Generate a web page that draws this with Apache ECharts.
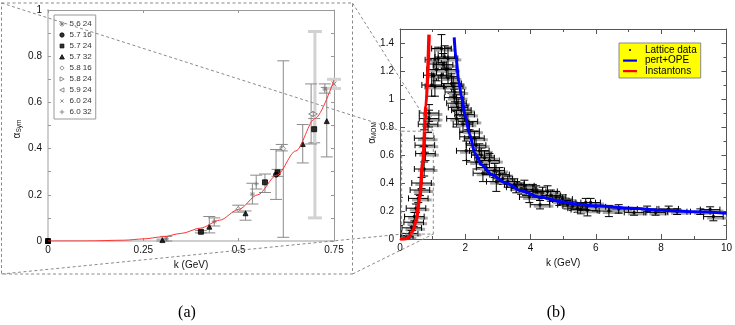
<!DOCTYPE html>
<html>
<head>
<meta charset="utf-8">
<script src="https://cdn.jsdelivr.net/npm/echarts@6/dist/echarts.min.js"></script>
<style>
html, body { margin: 0; padding: 0; background: #fff; }
#chart { width: 735px; height: 325px; }
</style>
</head>
<body>
<div id="chart"></div>
<script>
// ---- panel (a): [k, alpha, low, high] for each run (beta, L)
const a56_24 = [[0.31, 0.01, 0.0, 0.02], [0.436, 0.084, 0.065, 0.1], [0.536, 0.203, 0.16, 0.25], [0.613, 0.403, 0.39, 0.418], [0.726, 0.658, 0.64, 0.68]];
const a57_16 = [[0, 0, 0, 0], [0.598, 0.287, 0.18, 0.396]];
const a57_24 = [[0, 0, 0, 0], [0.401, 0.04, 0.035, 0.045], [0.569, 0.254, 0.21, 0.29], [0.602, 0.297, 0.28, 0.31], [0.698, 0.484, 0.425, 0.53]];
const a57_32 = [[0, 0, 0, 0], [0.3, 0.004, 0.0, 0.008], [0.423, 0.062, 0.035, 0.106], [0.518, 0.12, 0.09, 0.13], [0.668, 0.42, 0.338, 0.504], [0.731, 0.519, 0.364, 0.665]];
const a58_16 = [[0.499, 0.138, 0.125, 0.155], [0.617, 0.40, 0.016, 0.78]];
const a58_24 = [[0.70, 0.55, 0.1, 0.907]];
const a59_24 = [[0.69, 0.55, 0.42, 0.68]];
const a60_24 = [[0.75, 0.68, 0.66, 0.70]];
const a60_32 = [[0.546, 0.247, 0.225, 0.285]];
// red curve of panel (a)
const fitK = [0, 0.1, 0.2, 0.25, 0.3, 0.35, 0.4, 0.45, 0.5, 0.55, 0.6, 0.65, 0.7, 0.75];
const fitA = [0, 0.0002, 0.0035, 0.009, 0.018, 0.033, 0.056, 0.09, 0.137, 0.2, 0.285, 0.39, 0.53, 0.697];

// ---- panel (b): lattice data [k, alpha, dk, dalpha]
const lattice = [
  [0.2, 0.015, 0.2, 0.01], [0.3, 0.04, 0.25, 0.02], [0.36, 0.08, 0.3, 0.02], [0.42, 0.12, 0.3, 0.03],
  [0.44, 0.16, 0.3, 0.03], [0.49, 0.22, 0.3, 0.03], [0.56, 0.29, 0.3, 0.03], [0.61, 0.35, 0.3, 0.04],
  [0.66, 0.40, 0.3, 0.04], [0.74, 0.50, 0.3, 0.05], [0.78, 0.61, 0.3, 0.05], [0.76, 0.67, 0.3, 0.05],
  [0.74, 0.72, 0.3, 0.06], [0.86, 0.82, 0.3, 0.06], [0.89, 0.86, 0.3, 0.06], [0.89, 0.90, 0.3, 0.06],
  [0.97, 1.10, 0.3, 0.08], [1.02, 1.17, 0.3, 0.08], [1.07, 1.09, 0.3, 0.07], [1.07, 1.28, 0.3, 0.08],
  [1.12, 1.21, 0.3, 0.08], [1.17, 1.29, 0.3, 0.08], [1.27, 1.36, 0.3, 0.1], [1.27, 1.17, 0.3, 0.08],
  [1.32, 1.245, 0.3, 0.08], [1.37, 1.30, 0.3, 0.08], [1.42, 1.21, 0.3, 0.07], [1.47, 1.29, 0.3, 0.08],
  [1.47, 1.15, 0.3, 0.07], [1.58, 1.11, 0.3, 0.07], [1.63, 1.09, 0.3, 0.07], [1.68, 1.05, 0.3, 0.07],
  [1.66, 1.01, 0.3, 0.06], [1.73, 0.97, 0.3, 0.06], [1.78, 0.94, 0.3, 0.06], [1.88, 0.92, 0.3, 0.06],
  [1.73, 0.86, 0.3, 0.06], [1.98, 0.89, 0.3, 0.06], [2.08, 0.84, 0.3, 0.06], [1.93, 0.82, 0.3, 0.06],
  [2.13, 0.77, 0.3, 0.06], [2.03, 0.63, 0.3, 0.07], [2.13, 0.73, 0.3, 0.05], [2.28, 0.72, 0.3, 0.05],
  [2.33, 0.67, 0.3, 0.05], [2.43, 0.63, 0.3, 0.05], [2.34, 0.55, 0.3, 0.05], [2.49, 0.60, 0.3, 0.05],
  [2.59, 0.58, 0.3, 0.05], [2.54, 0.47, 0.3, 0.06], [2.64, 0.51, 0.3, 0.05], [2.74, 0.56, 0.3, 0.05],
  [2.9, 0.49, 0.3, 0.05], [2.95, 0.41, 0.3, 0.07], [3.05, 0.46, 0.3, 0.05], [3.15, 0.43, 0.3, 0.04],
  [3.3, 0.41, 0.3, 0.04], [3.5, 0.39, 0.3, 0.04], [3.56, 0.37, 0.3, 0.04], [3.71, 0.36, 0.3, 0.04],
  [3.81, 0.38, 0.3, 0.04], [3.86, 0.35, 0.3, 0.04], [3.96, 0.30, 0.3, 0.04], [4.07, 0.35, 0.3, 0.04],
  [4.17, 0.34, 0.3, 0.04], [4.29, 0.245, 0.3, 0.03], [4.37, 0.33, 0.3, 0.04], [4.52, 0.34, 0.3, 0.04],
  [4.62, 0.31, 0.3, 0.04], [4.78, 0.30, 0.3, 0.04], [4.88, 0.27, 0.3, 0.03], [4.98, 0.285, 0.3, 0.03],
  [5.13, 0.245, 0.3, 0.03], [5.29, 0.235, 0.3, 0.03], [5.44, 0.22, 0.3, 0.03], [5.54, 0.21, 0.3, 0.03],
  [5.69, 0.26, 0.3, 0.03], [5.84, 0.26, 0.3, 0.03], [5.74, 0.205, 0.3, 0.04], [6.0, 0.23, 0.3, 0.03],
  [6.4, 0.20, 0.3, 0.04], [6.7, 0.215, 0.3, 0.03], [7.17, 0.19, 0.3, 0.02], [7.57, 0.215, 0.3, 0.02],
  [7.83, 0.19, 0.3, 0.02], [8.23, 0.215, 0.3, 0.02], [8.49, 0.195, 0.3, 0.02], [9.2, 0.195, 0.3, 0.02],
  [9.5, 0.21, 0.3, 0.02], [9.6, 0.16, 0.3, 0.03]
];
// pert+OPE (blue) and instanton (red) curves
const opeK = [1.66, 1.72, 1.8, 1.88, 2.0, 2.13, 2.3, 2.5, 2.8, 3.25, 3.7, 4.27, 5.0, 5.4, 6.0, 7.1, 8.0, 9.0, 10.0];
const opeA = [1.44, 1.28, 1.13, 1.02, 0.88, 0.75, 0.61, 0.53, 0.46, 0.40, 0.345, 0.30, 0.265, 0.25, 0.237, 0.22, 0.205, 0.194, 0.184];
const instK = [0, 0.1, 0.2, 0.3, 0.4, 0.5, 0.6, 0.7, 0.8, 0.89];
const instA = [0, 0.0003, 0.004, 0.02, 0.06, 0.14, 0.29, 0.55, 0.95, 1.46];

const STAR = 'path://M5,0L5,10M0,5L10,5M1.5,1.5L8.5,8.5M8.5,1.5L1.5,8.5';
const TRI_R = 'path://M0,0L10,5L0,10Z';
const TRI_L = 'path://M10,0L0,5L10,10Z';
const CROSS = 'path://M0,0L10,10M10,0L0,10';
const PLUS = 'path://M5,0L5,10M0,5L10,5';

// legend icons: the leading moves fix a 10x10 box so the glyph keeps its small size
const BOX = 'path://M0,0M10,10';
const runs = [
  {name: '5.6 24', data: a56_24, symbol: STAR, fill: 'transparent', stroke: '#777',
    icon: BOX + 'M5,2L5,8M2,5L8,5M2.9,2.9L7.1,7.1M7.1,2.9L2.9,7.1'},
  {name: '5.7 16', data: a57_16, symbol: 'circle', fill: '#000', stroke: '#000',
    icon: BOX + 'M5,2.6A2.4,2.4,0,1,1,5,7.4A2.4,2.4,0,1,1,5,2.6Z'},
  {name: '5.7 24', data: a57_24, symbol: 'rect', fill: '#000', stroke: '#000',
    icon: BOX + 'M2.9,2.9L7.1,2.9L7.1,7.1L2.9,7.1Z'},
  {name: '5.7 32', data: a57_32, symbol: 'triangle', fill: '#000', stroke: '#000',
    icon: BOX + 'M5,2.4L7.6,7.2L2.4,7.2Z'},
  {name: '5.8 16', data: a58_16, symbol: 'diamond', fill: '#fff', stroke: '#777',
    icon: BOX + 'M5,2.6L7.4,5L5,7.4L2.6,5Z'},
  {name: '5.8 24', data: a58_24, symbol: TRI_R, fill: '#fff', stroke: '#777', thick: 1,
    icon: BOX + 'M2.8,2.6L7.4,5L2.8,7.4Z'},
  {name: '5.9 24', data: a59_24, symbol: TRI_L, fill: '#fff', stroke: '#777',
    icon: BOX + 'M7.2,2.6L2.6,5L7.2,7.4Z'},
  {name: '6.0 24', data: a60_24, symbol: CROSS, fill: 'transparent', stroke: '#777', thick: 1,
    icon: BOX + 'M3.2,3.2L6.8,6.8M6.8,3.2L3.2,6.8'},
  {name: '6.0 32', data: a60_32, symbol: PLUS, fill: 'transparent', stroke: '#777',
    icon: BOX + 'M5,2.5L5,7.5M2.5,5L7.5,5'}
];

const errA = [];
runs.forEach(r => r.data.forEach(p => { if (p[3] > p[2]) errA.push([p[0], p[2], p[3], r.thick || 0]); }));

function renderErrA(params, api) {
  const x = api.value(0);
  const lo = api.coord([x, api.value(1)]);
  const hi = api.coord([x, api.value(2)]);
  const thick = api.value(3);
  const w = thick ? 7 : 6;
  const st = {stroke: thick ? '#d2d2d2' : '#8a8a8a', lineWidth: thick ? 3 : 1, fill: null};
  return {type: 'group', children: [
    {type: 'line', shape: {x1: lo[0], y1: lo[1], x2: hi[0], y2: hi[1]}, style: st},
    {type: 'line', shape: {x1: lo[0] - w, y1: lo[1], x2: lo[0] + w, y2: lo[1]}, style: st},
    {type: 'line', shape: {x1: hi[0] - w, y1: hi[1], x2: hi[0] + w, y2: hi[1]}, style: st}
  ]};
}

function renderErrB(params, api) {
  const k = api.value(0), a = api.value(1), dk = api.value(2), da = api.value(3);
  const l = api.coord([k - dk, a]), r = api.coord([k + dk, a]);
  const b = api.coord([k, a - da]), t = api.coord([k, a + da]);
  const gl = api.coord([k - dk * 0.9 + 0.08, a]), gr = api.coord([k + dk * 1.1 + 0.08, a]);
  const gray = {stroke: '#a8a8a8', lineWidth: 3, fill: null};
  const blk = {stroke: '#000', lineWidth: 1, fill: null};
  return {type: 'group', children: [
    {type: 'line', shape: {x1: gl[0], y1: gl[1] + 1.5, x2: gr[0], y2: gr[1] + 1.5}, style: gray},
    {type: 'line', shape: {x1: l[0], y1: l[1], x2: r[0], y2: r[1]}, style: blk},
    {type: 'line', shape: {x1: l[0], y1: l[1] - 3, x2: l[0], y2: l[1] + 3}, style: blk},
    {type: 'line', shape: {x1: r[0], y1: r[1] - 3, x2: r[0], y2: r[1] + 3}, style: blk},
    {type: 'line', shape: {x1: b[0], y1: b[1], x2: t[0], y2: t[1]}, style: blk},
    {type: 'line', shape: {x1: b[0] - 4, y1: b[1], x2: b[0] + 4, y2: b[1]}, style: blk},
    {type: 'line', shape: {x1: t[0] - 4, y1: t[1], x2: t[0] + 4, y2: t[1]}, style: blk}
  ]};
}

const FONT = 'Liberation Sans';
const lab = {fontFamily: FONT, fontSize: 10, color: '#111'};

function frameAxis(grid, pos, min, max, interval, opts) {
  return Object.assign({
    type: 'value', gridIndex: grid, position: pos, min: min, max: max, interval: interval,
    splitLine: {show: false},
    axisTick: {show: true, inside: true, length: 3, lineStyle: {color: '#999'}},
    axisLabel: {show: false},
    axisLine: {show: true, onZero: false, lineStyle: {color: '#999', width: 1}}
  }, opts);
}

const lightLine = {show: true, onZero: false, lineStyle: {color: '#cfcfcf', width: 2}};
const darkLine = {show: true, onZero: false, lineStyle: {color: '#555', width: 1}};
const tickB = {show: true, inside: true, length: 5, lineStyle: {color: '#555'}};
const minorB = {show: true, splitNumber: 2, length: 3, lineStyle: {color: '#555'}};
const LINE_ICON = 'path://M0,0M14,8M0,3L14,3L14,5.2L0,5.2Z';

const option = {
  animation: false,
  grid: [
    {left: 48, top: 10, width: 286, height: 231},
    {left: 400, top: 29, width: 328, height: 210}
  ],
  xAxis: [
    frameAxis(0, 'bottom', 0, 0.75, 0.25, {axisLine: lightLine, axisLabel: Object.assign({margin: 4}, lab),
      name: 'k (GeV)', nameLocation: 'middle', nameGap: 16, nameTextStyle: lab}),
    frameAxis(0, 'top', 0, 0.75, 0.25, {}),
    frameAxis(1, 'bottom', 0, 10, 2, {axisLine: darkLine, axisTick: tickB, minorTick: minorB,
      axisLabel: Object.assign({margin: 4}, lab),
      name: 'k (GeV)', nameLocation: 'middle', nameGap: 18, nameTextStyle: lab}),
    frameAxis(1, 'top', 0, 10, 2, {axisLine: darkLine, axisTick: tickB, minorTick: minorB})
  ],
  yAxis: [
    frameAxis(0, 'left', 0, 1, 0.2, {axisLine: lightLine, minorTick: {show: true, splitNumber: 2, length: 3, lineStyle: {color: '#999'}},
      axisLabel: Object.assign({margin: 6}, lab)}),
    frameAxis(0, 'right', 0, 1, 0.2, {minorTick: {show: true, splitNumber: 2, length: 3, lineStyle: {color: '#999'}}}),
    frameAxis(1, 'left', 0, 1.5, 0.2, {axisLine: darkLine, axisTick: tickB, minorTick: minorB,
      axisLabel: Object.assign({margin: 6, showMaxLabel: false}, lab)}),
    frameAxis(1, 'right', 0, 1.5, 0.2, {axisLine: darkLine, axisTick: tickB, minorTick: minorB})
  ],
  legend: [
    {
      data: runs.map(r => ({name: r.name, icon: r.icon,
        itemStyle: {color: r.fill, borderColor: r.stroke, borderWidth: 1}})),
      orient: 'vertical', left: 54, top: 15,
      padding: [4, 4, 2, 3], itemWidth: 9, itemHeight: 9, itemGap: 1,
      backgroundColor: '#fff', borderColor: '#999', borderWidth: 1,
      selectedMode: false,
      textStyle: {fontFamily: FONT, fontSize: 8, color: '#333', lineHeight: 9.5, padding: [0, 0, 0, -2]}
    },
    {
      data: [
        {name: 'Lattice data', icon: 'path://M0,0M14,8M6,3L8,3L8,5L6,5Z', itemStyle: {color: '#000'}},
        {name: 'pert+OPE', icon: LINE_ICON, itemStyle: {color: '#0000ff', borderWidth: 0}},
        {name: 'Instantons', icon: LINE_ICON, itemStyle: {color: '#ff0000', borderWidth: 0}}
      ],
      orient: 'vertical', left: 619, top: 43,
      padding: [2, 4, 2, 4], itemWidth: 14, itemHeight: 8, itemGap: 0.5,
      backgroundColor: '#ffff00', borderColor: '#888', borderWidth: 1,
      selectedMode: false,
      textStyle: {fontFamily: FONT, fontSize: 10, color: '#000', lineHeight: 10, padding: [0, 0, 0, 3]}
    }
  ],
  series: [
    {
      name: 'err (a)', type: 'custom', xAxisIndex: 0, yAxisIndex: 0, z: 1,
      renderItem: renderErrA, data: errA, encode: {x: 0, y: [1, 2]}, silent: true
    },
    ...runs.map(r => ({
      name: r.name, type: 'scatter', xAxisIndex: 0, yAxisIndex: 0, z: 2,
      symbol: r.symbol, symbolSize: 5,
      itemStyle: {color: r.fill, borderColor: r.stroke, borderWidth: 1},
      data: r.data.map(p => [p[0], p[1]])
    })),
    {
      name: 'fit (a)', type: 'line', xAxisIndex: 0, yAxisIndex: 0, z: 3,
      symbol: 'none', smooth: 0.3, smoothMonotone: 'x',
      lineStyle: {color: '#ff3333', width: 1},
      data: fitK.map((k, i) => [k, fitA[i]])
    },
    {
      name: 'err (b)', type: 'custom', xAxisIndex: 2, yAxisIndex: 2, z: 1, clip: true,
      renderItem: renderErrB, data: lattice, encode: {x: 0, y: 1}, silent: true
    },
    {
      name: 'Lattice data', type: 'scatter', xAxisIndex: 2, yAxisIndex: 2, z: 2,
      symbol: 'circle', symbolSize: 3.5, itemStyle: {color: '#000'},
      data: lattice.map(p => [p[0], p[1]])
    },
    {
      name: 'pert+OPE', type: 'line', xAxisIndex: 2, yAxisIndex: 2, z: 3,
      symbol: 'none', smooth: 0.3, smoothMonotone: 'x', itemStyle: {color: '#0000ff'},
      lineStyle: {color: '#0000ff', width: 3},
      data: opeK.map((k, i) => [k, opeA[i]])
    },
    {
      name: 'Instantons', type: 'line', xAxisIndex: 2, yAxisIndex: 2, z: 3,
      symbol: 'none', smooth: 0.3, smoothMonotone: 'x', itemStyle: {color: '#ff0000'},
      lineStyle: {color: '#ff0000', width: 3.5},
      data: instK.map((k, i) => [k, instA[i]])
    }
  ]
};

const chart = echarts.init(document.getElementById('chart'));
chart.setOption(option);

// zoom box in (b) and the dashed connectors to the frame of (a)
const finderB = {xAxisIndex: 2, yAxisIndex: 2};
const zTL = chart.convertToPixel(finderB, [0.05, 0.77]);
const zBR = chart.convertToPixel(finderB, [1.02, 0.035]);
const boxA = {x1: 1.5, y1: 3, x2: 352.5, y2: 274};
const dash = {stroke: '#8a8a8a', lineWidth: 1, lineDash: [3, 2.5], fill: null};
function seg(x1, y1, x2, y2) {
  return {type: 'line', silent: true, z: 100, shape: {x1, y1, x2, y2}, style: dash};
}
const mu = {fontFamily: FONT, fontSize: 10, fill: '#111'};
chart.setOption({
  graphic: [
    {type: 'rect', silent: true, z: 100, shape: {x: boxA.x1, y: boxA.y1, width: boxA.x2 - boxA.x1, height: boxA.y2 - boxA.y1}, style: dash},
    {type: 'rect', silent: true, z: 100, shape: {x: zTL[0], y: zTL[1], width: zBR[0] - zTL[0], height: zBR[1] - zTL[1]}, style: dash},
    seg(boxA.x1, boxA.y1, zTL[0], zTL[1]),
    seg(boxA.x2, boxA.y1, zBR[0], zTL[1]),
    seg(boxA.x1, boxA.y2, zTL[0], zBR[1]),
    seg(boxA.x2, boxA.y2, zBR[0], zBR[1]),
    {type: 'text', x: 17, y: 129, rotation: Math.PI / 2, silent: true,
      style: {text: '{a|α}{s|Sym}', align: 'center', verticalAlign: 'middle',
        rich: {a: Object.assign({}, mu, {lineHeight: 12}), s: Object.assign({}, mu, {fontSize: 6.5, verticalAlign: 'bottom', lineHeight: 8})}}},
    {type: 'text', x: 372, y: 133, rotation: Math.PI / 2, silent: true,
      style: {text: '{a|α}{s|MOM}', align: 'center', verticalAlign: 'middle',
        rich: {a: Object.assign({}, mu, {lineHeight: 12}), s: Object.assign({}, mu, {fontSize: 6.5, verticalAlign: 'bottom', lineHeight: 8})}}},
    {type: 'text', x: 187, y: 313, silent: true,
      style: {text: '(a)', align: 'center', verticalAlign: 'middle', fontFamily: 'Liberation Serif', fontSize: 16, fill: '#000'}},
    {type: 'text', x: 556, y: 313, silent: true,
      style: {text: '(b)', align: 'center', verticalAlign: 'middle', fontFamily: 'Liberation Serif', fontSize: 16, fill: '#000'}}
  ]
});
</script>
</body>
</html>
